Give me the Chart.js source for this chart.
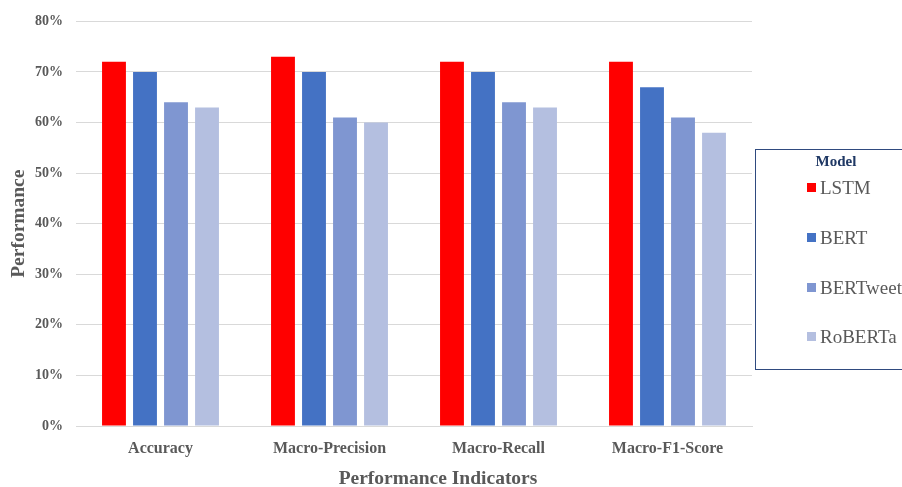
<!DOCTYPE html>
<html>
<head>
<meta charset="utf-8">
<script src="https://cdn.jsdelivr.net/npm/chart.js@4"></script>
<style>
  html, body { margin: 0; padding: 0; background: #fff; overflow: hidden; }
  #wrap { position: relative; width: 902px; height: 487px; }
  #legend {
    position: absolute; left: 755px; top: 149px; width: 170px; height: 221px;
    border: 1.5px solid #2F4A7F; box-sizing: border-box;
    font-family: "Liberation Serif", "Times New Roman", serif;
  }
  #legend .title { position: absolute; left: 0; width: 160px; top: 3px; text-align: center;
    font-weight: bold; font-size: 15px; color: #1F3864; }
  #legend .item { position: absolute; left: 51px; font-size: 19px; color: #595959; white-space: nowrap; }
  #legend .box { display: inline-block; width: 9px; height: 9px; margin-right: 4px; vertical-align: 2px; }
</style>
</head>
<body>
<div id="wrap">
  <canvas id="chart" width="902" height="487"></canvas>
  <div id="legend"></div>
</div>
<script>
// Data
const categories = ['Accuracy', 'Macro-Precision', 'Macro-Recall', 'Macro-F1-Score'];
const models = ['LSTM', 'BERT', 'BERTweet', 'RoBERTa'];
const lstm = [72, 73, 72, 72];
const bert = [70, 70, 70, 67];
const bertweet = [64, 61, 64, 61];
const roberta = [63, 60, 63, 58];
const colors = ['#FF0000', '#4472C4', '#7F96D1', '#B4BFE0'];

const serif = '"Liberation Serif", "Times New Roman", serif';
const grey = '#595959';

const series = [lstm, bert, bertweet, roberta];
const datasets = series.map((vals, i) => ({
    label: models[i],
    data: vals,
    backgroundColor: colors[i],
    borderWidth: 0,
    categoryPercentage: 0.734,
    barPercentage: 0.77
}));

// x axis title, drawn a bit right of the plot centre like the original
const xTitle = {
    id: 'xTitle',
    afterDraw(c) {
        const g = c.ctx;
        g.save();
        g.font = 'bold 19.5px ' + serif;
        g.fillStyle = grey;
        g.textAlign = 'center';
        g.textBaseline = 'middle';
        g.fillText('Performance Indicators', (c.chartArea.left + c.chartArea.right) / 2 + 24, 479);
        g.restore();
    }
};

const ctx = document.getElementById('chart').getContext('2d');
const chart = new Chart(ctx, {
    type: 'bar',
    data: { labels: categories, datasets: datasets },
    plugins: [xTitle],
    options: {
        responsive: false,
        animation: false,
        layout: { padding: { top: 20, right: 150, left: 0, bottom: 0 } },
        plugins: {
            legend: { display: false },
            tooltip: { enabled: false }
        },
        scales: {
            x: {
                grid: { display: false },
                border: { color: '#D9D9D9', width: 1 },
                ticks: { color: grey, font: { family: serif, size: 16, weight: 'bold' }, padding: 5 },
                afterFit: s => { s.height = 61; }
            },
            y: {
                min: 0, max: 80,
                grid: { color: '#D9D9D9', drawTicks: false },
                border: { display: false },
                ticks: {
                    stepSize: 10, color: grey, padding: 13,
                    font: { family: serif, size: 14, weight: 'bold' },
                    callback: v => v + '%'
                },
                title: {
                    display: true, text: 'Performance', color: grey,
                    font: { family: serif, size: 19.5, weight: 'bold' }, padding: { top: 7, bottom: 0 }
                },
                afterFit: s => { s.width = 76; }
            }
        }
    }
});

// HTML legend built from the chart datasets
const legend = document.getElementById('legend');
legend.innerHTML = '<div class="title">Model</div>';
const itemTops = [27, 77, 127, 176];
chart.data.datasets.forEach((ds, i) => {
    const el = document.createElement('div');
    el.className = 'item';
    el.style.top = itemTops[i] + 'px';
    el.innerHTML = '<span class="box" style="background:' + ds.backgroundColor + '"></span>' + ds.label;
    legend.appendChild(el);
});
</script>
</body>
</html>
